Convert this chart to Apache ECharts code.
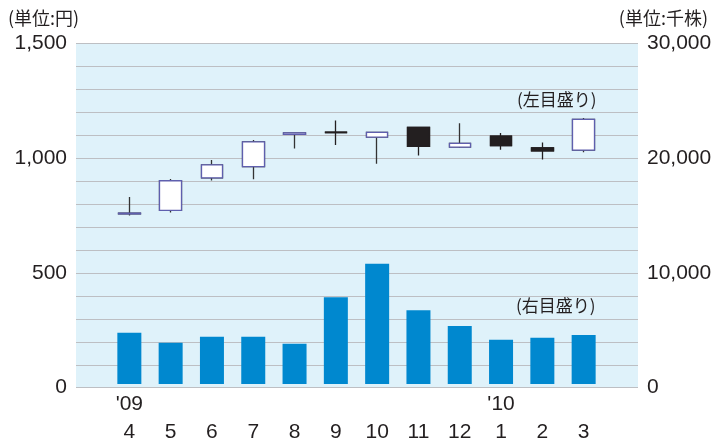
<!DOCTYPE html>
<html>
<head>
<meta charset="utf-8">
<script src="https://cdn.jsdelivr.net/npm/echarts@6/dist/echarts.min.js"></script>
<style>
html,body{margin:0;padding:0;background:#fff;}
#c{width:718px;height:446px;}
</style>
</head>
<body>
<div id="c"></div>
<script>
// ---- data ----
const months = ['4','5','6','7','8','9','10','11','12','1','2','3'];
const years = ["'09",'','','','','','','','',"'10",'',''];
// price candles: [open, close, low, high] (yen)
const priceOpen  = [750, 765, 909, 958, 1100, 1110, 1088, 1131, 1044, 1093, 1041, 1031];
const priceClose = [753, 896, 966, 1067, 1107, 1108, 1109, 1047, 1061, 1051, 1028, 1166];
const priceLow   = [743, 756, 897, 903, 1038, 1053, 971, 1007, 1040, 1032, 990, 1022];
const priceHigh  = [824, 904, 987, 1075, 1109, 1162, 1112, 1132, 1149, 1106, 1064, 1172];
// volume (thousand shares)
const volume = [4510, 3640, 4160, 4160, 3550, 7650, 10610, 6510, 5120, 3900, 4070, 4330];
// axis ticks
const priceTicks = [0, 500, 1000, 1500];
const volumeTicks = [0, 10000, 20000, 30000];

const candleFull = months.map((m, i) => [priceOpen[i], priceClose[i], priceLow[i], priceHigh[i]]);
const candleBody = months.map((m, i) => [priceOpen[i], priceClose[i],
  Math.min(priceOpen[i], priceClose[i]), Math.max(priceOpen[i], priceClose[i])]);

const fmt = v => String(v).replace(/\B(?=(\d{3})+(?!\d))/g, ',');
const TXT = '#231f20';
const NUMFONT = 'Liberation Sans';
const JPFONT = 'Noto Sans CJK JP';

const chart = echarts.init(document.getElementById('c'));
chart.setOption({
  animation: false,
  backgroundColor: '#fff',
  grid: [
    {left: 76, right: 80, top: 43.7, bottom: 58.3, show: true, backgroundColor: '#dff2fa', borderWidth: 0},
    {left: 108.7, right: 113.7, top: 43.7, bottom: 58.3}
  ],
  xAxis: [
    {gridIndex: 0, type: 'category', data: months, show: false},
    {gridIndex: 1, type: 'category', data: months,
      axisLine: {show: false}, axisTick: {show: false},
      axisLabel: {
        margin: 6, fontSize: 21, fontFamily: NUMFONT, color: TXT, lineHeight: 28,
        formatter: (v, i) => years[i] + '\n' + v
      }}
  ],
  yAxis: [
    {gridIndex: 0, type: 'value', position: 'left', min: priceTicks[0], max: priceTicks[priceTicks.length-1], interval: 500,
      axisLine: {show: false}, axisTick: {show: false},
      axisLabel: {margin: 9, fontSize: 21, fontFamily: NUMFONT, color: TXT, formatter: v => fmt(v)},
      splitLine: {show: true, lineStyle: {color: '#bdbfc3', width: 1.2}},
      minorTick: {show: false, splitNumber: 5},
      minorSplitLine: {show: true, lineStyle: {color: '#bdbfc3', width: 1.2}}},
    {gridIndex: 0, type: 'value', position: 'right', min: volumeTicks[0], max: volumeTicks[volumeTicks.length-1], interval: 10000,
      axisLine: {show: false}, axisTick: {show: false}, splitLine: {show: false},
      axisLabel: {margin: 9, fontSize: 21, fontFamily: NUMFONT, color: TXT, formatter: v => fmt(v)}},
    {gridIndex: 1, type: 'value', min: 0, max: 1500, show: false, splitLine: {show: false}},
    {gridIndex: 1, type: 'value', min: 0, max: 30000, show: false, splitLine: {show: false}}
  ],
  series: [
    {type: 'bar', xAxisIndex: 1, yAxisIndex: 3, data: volume, barWidth: 24,
      itemStyle: {color: '#0088cf'}},
    {type: 'candlestick', xAxisIndex: 1, yAxisIndex: 2, data: candleFull, barWidth: 22,
      itemStyle: {color: '#ffffff', color0: '#231f20', borderColor: '#333333', borderColor0: '#231f20', borderWidth: 1.3}},
    {type: 'candlestick', xAxisIndex: 1, yAxisIndex: 2, data: candleBody, barWidth: 22,
      itemStyle: {color: '#ffffff', color0: '#231f20', borderColor: '#5f5fae', borderColor0: '#231f20', borderWidth: 1.3}}
  ],
  graphic: [
    {type: 'text', left: 8, top: 9, style: {text: '(単位:円)', fontSize: 18, fontFamily: JPFONT, fill: TXT}},
    {type: 'text', right: 10, top: 9, style: {text: '(単位:千株)', fontSize: 18, fontFamily: JPFONT, fill: TXT}},
    {type: 'text', left: 517, top: 91, style: {text: '(左目盛り)', fontSize: 17, fontFamily: JPFONT, fill: TXT}},
    {type: 'text', left: 516, top: 297, style: {text: '(右目盛り)', fontSize: 17, fontFamily: JPFONT, fill: TXT}}
  ]
});
</script>
</body>
</html>
